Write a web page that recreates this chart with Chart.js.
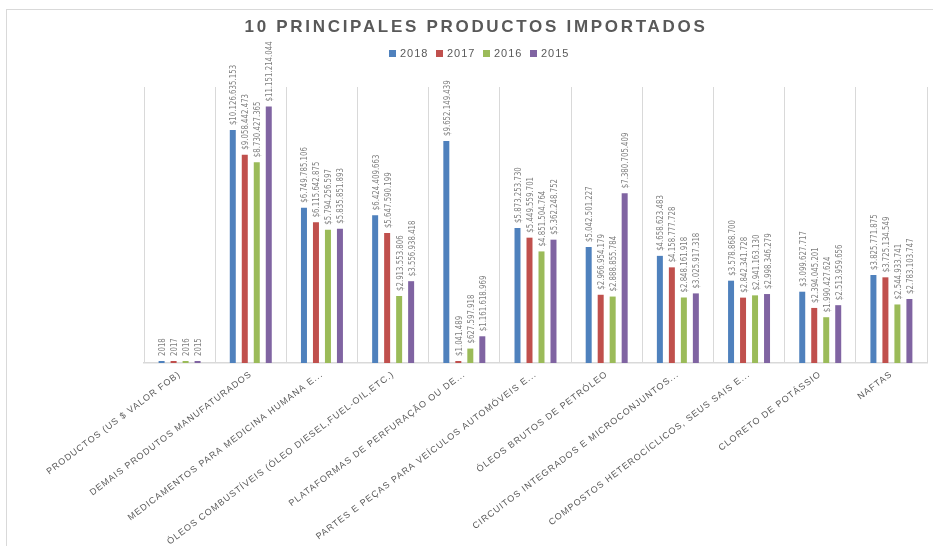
<!DOCTYPE html>
<html>
<head>
<meta charset="utf-8">
<script src="https://cdn.jsdelivr.net/npm/chart.js@4.4.1/dist/chart.umd.min.js"></script>
<style>
  body { margin: 0; background: #fff; }
</style>
</head>
<body>
<canvas id="importChart" width="933" height="546"></canvas>
<script>
const titulo = '10 PRINCIPALES PRODUCTOS IMPORTADOS';
const productos = [
    'PRODUCTOS (US $ VALOR FOB)',
    'DEMAIS PRODUTOS MANUFATURADOS',
    'MEDICAMENTOS PARA MEDICINA HUMANA E...',
    'ÓLEOS COMBUSTÍVEIS (ÓLEO DIESEL,FUEL-OIL,ETC.)',
    'PLATAFORMAS DE PERFURAÇÃO OU DE...',
    'PARTES E PEÇAS PARA VEÍCULOS AUTOMÓVEIS E...',
    'ÓLEOS BRUTOS DE PETRÓLEO',
    'CIRCUITOS INTEGRADOS E MICROCONJUNTOS...',
    'COMPOSTOS HETEROCÍCLICOS, SEUS SAIS E...',
    'CLORETO DE POTÁSSIO',
    'NAFTAS'
];
const anos = ['2018', '2017', '2016', '2015'];
const valores2018 = [2018, 10126635153, 6749785106, 6424409663, 9652149439, 5873253730, 5042501227, 4658623483, 3578868700, 3099627717, 3825771875];
const valores2017 = [2017, 9058442473, 6115642875, 5647590199, 1041489, 5449559701, 2966954179, 4158777728, 2842341728, 2394045201, 3725134549];
const valores2016 = [2016, 8730427365, 5794256597, 2913553806, 627597918, 4851504764, 2888855784, 2848161918, 2941163130, 1990427624, 2544933741];
const valores2015 = [2015, 11151214044, 5835851893, 3556938418, 1161618969, 5362248752, 7380705409, 3025917318, 2998346279, 2513959656, 2783103747];
const colores = ['#4f81bd', '#c0504d', '#9bbb59', '#8064a2'];

const series = [valores2018, valores2017, valores2016, valores2015];

function formatoValor(v) {
    if (v < 10000) return String(v);
    return '$' + String(v).replace(/\B(?=(\d{3})+(?!\d))/g, '.');
}

// marco, titulo y leyenda al estilo Excel
const decoracion = {
    id: 'decoracion',
    beforeDraw(chart) {
        const ctx = chart.ctx;
        ctx.save();
        ctx.strokeStyle = '#d9d9d9';
        ctx.lineWidth = 1;
        ctx.strokeRect(6.5, 9.5, 960, 600);
        ctx.restore();
        ctx.letterSpacing = '1px';
    },
    afterDatasetsDraw(chart) {
        const ctx = chart.ctx;
        ctx.save();
        ctx.letterSpacing = '0px';
        ctx.font = '9.5px "Liberation Sans Narrow", "DejaVu Sans Condensed", sans-serif';
        ctx.fillStyle = '#7f7f7f';
        ctx.textAlign = 'left';
        ctx.textBaseline = 'middle';
        chart.data.datasets.forEach((ds, i) => {
            chart.getDatasetMeta(i).data.forEach((bar, j) => {
                ctx.save();
                ctx.translate(bar.x + 1, bar.y - 5);
                ctx.rotate(-Math.PI / 2);
                ctx.scale(0.82, 1);
                ctx.fillText(formatoValor(ds.data[j]), 0, 0);
                ctx.restore();
            });
        });
        ctx.restore();
    },
    afterDraw(chart) {
        const ctx = chart.ctx;
        ctx.save();
        ctx.fillStyle = '#595959';
        ctx.textAlign = 'center';
        ctx.textBaseline = 'middle';
        ctx.letterSpacing = '2.7px';
        ctx.font = 'bold 17px "Liberation Sans", sans-serif';
        ctx.fillText(titulo, 476, 27);

        ctx.letterSpacing = '1px';
        ctx.font = '11px "Liberation Sans", sans-serif';
        ctx.textAlign = 'left';
        const xs = [389, 436, 483, 530];
        anos.forEach((a, i) => {
            ctx.fillStyle = colores[i];
            ctx.fillRect(xs[i], 50, 7, 7);
            ctx.fillStyle = '#595959';
            ctx.fillText(a, xs[i] + 11, 54);
        });
        ctx.restore();
        ctx.letterSpacing = '0px';
    }
};

const ctx = document.getElementById('importChart').getContext('2d');
const importChart = new Chart(ctx, {
    type: 'bar',
    data: {
        labels: productos,
        datasets: anos.map((a, i) => ({
            label: a,
            data: series[i],
            backgroundColor: colores[i],
            borderWidth: 0,
            minBarLength: 2,
            categoryPercentage: 0.674,
            barPercentage: 0.5
        }))
    },
    options: {
        responsive: false,
        animation: false,
        layout: {
            padding: { left: 144, right: 6, top: 87, bottom: 0 }
        },
        scales: {
            x: {
                grid: {
                    offset: true,
                    color: '#d9d9d9',
                    drawTicks: false
                },
                border: { color: '#d9d9d9', width: 1.5 },
                ticks: {
                    color: '#595959',
                    font: { size: 9, family: '"Liberation Sans", sans-serif' },
                    minRotation: 37,
                    maxRotation: 37,
                    autoSkip: false,
                    padding: 6
                },
                afterFit(scale) {
                    scale.paddingLeft = 0;
                    scale.paddingRight = 0;
                    scale.height = 183;
                }
            },
            y: {
                display: false,
                min: 0,
                max: 12000000000
            }
        },
        plugins: {
            legend: { display: false },
            title: { display: false },
            tooltip: { enabled: false }
        }
    },
    plugins: [decoracion]
});
</script>
</body>
</html>
